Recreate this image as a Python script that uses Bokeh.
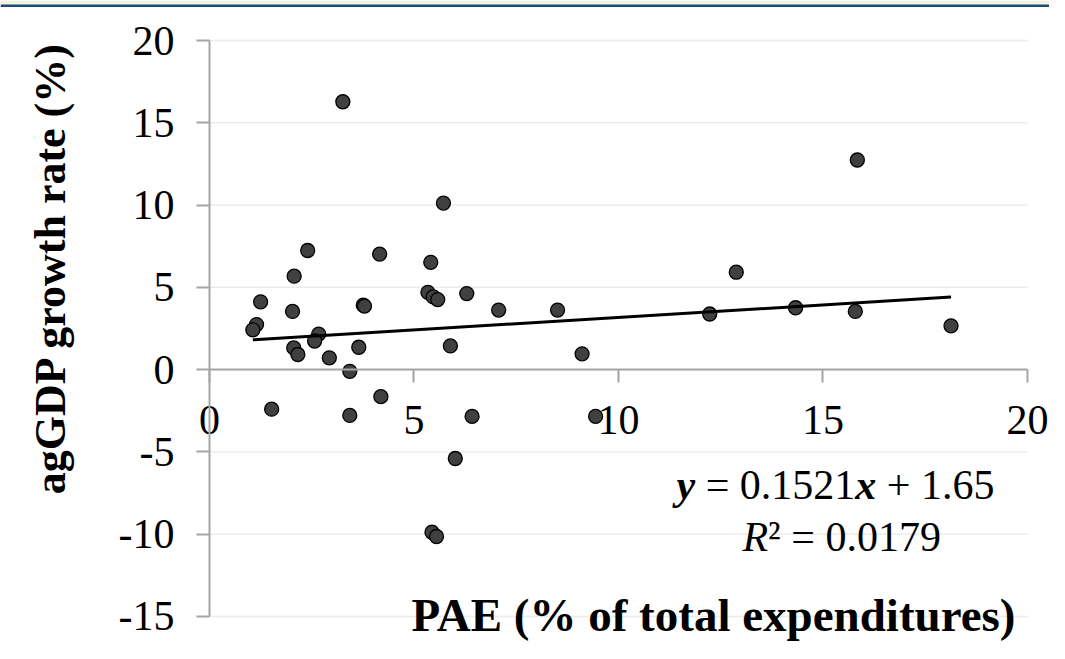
from bokeh.plotting import figure
from bokeh.models import FixedTicker, Label, Range1d, BoxAnnotation
from bokeh.embed import file_html
from bokeh.resources import INLINE

# Data
pae = [3.26, 5.72, 2.40, 4.16, 2.07, 5.41, 1.25, 2.03, 3.76, 3.79,
       5.34, 5.47, 5.58, 6.29, 1.15, 1.06, 2.67, 2.57, 5.89, 3.65,
       2.06, 2.16, 2.93, 3.43, 4.19, 1.52, 3.43, 6.42, 6.01, 5.44,
       5.55, 7.07, 8.51, 9.11, 12.23, 12.88, 9.44, 14.33, 15.79, 15.84,
       18.13]
aggdp = [16.28, 10.12, 7.24, 7.02, 5.68, 6.52, 4.12, 3.54, 3.92, 3.86,
         4.70, 4.42, 4.26, 4.62, 2.74, 2.42, 2.16, 1.74, 1.44, 1.36,
         1.32, 0.92, 0.72, -0.10, -1.64, -2.40, -2.78, -2.84, -5.40, -9.88,
         -10.14, 3.62, 3.62, 0.96, 3.38, 5.92, -2.84, 3.76, 3.54, 12.74,
         2.66]
slope = 0.1521
intercept = 1.65
r_squared = "0.0179"

x_ticks = [0, 5, 10, 15, 20]
y_ticks = [-15, -10, -5, 0, 5, 10, 15, 20]
x_title = "PAE (% of total expenditures)"
y_title = "agGDP growth rate (%)"

FONT = "Liberation Serif"
AXIS_COLOR = "#a6a6a6"

W, H = 1049, 643
Y0, Y1 = -16.641, 22.431
# frame covers the whole canvas; axes sit at x=0 / y=0
p = figure(width=W, height=H, output_backend="svg", toolbar_location=None,
           x_range=Range1d(-5.110, 20.538), y_range=Range1d(Y0, Y1),
           min_border=0)
p.outline_line_color = None
p.background_fill_color = "white"
p.border_fill_color = "white"
p.xgrid.visible = False
p.ygrid.visible = False

# page header strip (pale band with a navy rule under it)
upp = (Y1 - Y0) / H
p.add_layout(BoxAnnotation(bottom=Y1 - 4 * upp, fill_color="#f3f3df", fill_alpha=1,
                           line_color=None, level="underlay"))
p.add_layout(BoxAnnotation(bottom=Y1 - 6.5 * upp, top=Y1 - 4 * upp, fill_color="#1f4a7c",
                           fill_alpha=1, line_color=None, level="underlay"))

# horizontal gridlines spanning the x axis extent
p.segment(x0=[x_ticks[0]] * len(y_ticks), x1=[x_ticks[-1]] * len(y_ticks),
          y0=y_ticks, y1=y_ticks, line_color="#ececec", line_width=1.5, level="underlay")

for ax in (p.xaxis[0], p.yaxis[0]):
    ax.axis_line_color = AXIS_COLOR
    ax.axis_line_width = 2
    ax.major_tick_line_color = AXIS_COLOR
    ax.major_tick_line_width = 2
    ax.major_tick_out = 13
    ax.major_tick_in = 0
    ax.minor_tick_out = 0
    ax.minor_tick_in = 0
    ax.major_label_text_font = FONT
    ax.major_label_text_font_size = "42px"
    ax.major_label_text_color = "black"

p.xaxis.ticker = FixedTicker(ticks=x_ticks)
p.yaxis.ticker = FixedTicker(ticks=y_ticks)
p.xaxis.fixed_location = 0
p.yaxis.fixed_location = 0
p.xaxis.bounds = (x_ticks[0], x_ticks[-1])
p.yaxis.bounds = (y_ticks[0], y_ticks[-1])
p.xaxis.major_label_standoff = 23
p.yaxis.major_label_standoff = 22
p.xaxis.major_label_overrides = {t: str(t) for t in x_ticks}
p.yaxis.major_label_overrides = {t: str(t) for t in y_ticks}

# points
p.scatter(pae, aggdp, size=14, fill_color="#404040", line_color="black", line_width=1.3)

# linear trend line over the data span
x0, x1 = min(pae), max(pae)
p.line([x0, x1], [slope * x0 + intercept, slope * x1 + intercept],
       line_color="black", line_width=3)

# axis titles
p.add_layout(Label(x=-3.89, y=6.18, text=y_title,
                   angle=90, angle_units="deg", text_align="center", text_baseline="middle",
                   text_font=FONT, text_font_style="bold", text_font_size="44px",
                   text_color="black"))
p.add_layout(Label(x=4.94, y=-14.88, text=x_title,
                   text_align="left", text_baseline="middle",
                   text_font=FONT, text_font_style="bold", text_font_size="47px",
                   text_color="black"))

# regression equation, composed of styled pieces
fs = 42
eq1 = [("y", "bold italic", 0.0),
       ("= " + f"{slope:.4f}", "normal", 29.1),
       ("x", "bold italic", 178.8),
       ("+ " + f"{intercept:.2f}", "normal", 210.3)]
for txt, style, off in eq1:
    p.add_layout(Label(x=11.42, y=-7.04, x_offset=off, text=txt,
                       text_align="left", text_baseline="middle",
                       text_font=FONT, text_font_style=style, text_font_size=f"{fs}px",
                       text_color="black"))
eq2 = [("R", "italic", 0.0), ("² = " + r_squared, "normal", 25.7)]
for txt, style, off in eq2:
    p.add_layout(Label(x=13.03, y=-10.15, x_offset=off, text=txt,
                       text_align="left", text_baseline="middle",
                       text_font=FONT, text_font_style=style, text_font_size=f"{fs}px",
                       text_color="black"))

open("out.html", "w").write(file_html(p, INLINE))
